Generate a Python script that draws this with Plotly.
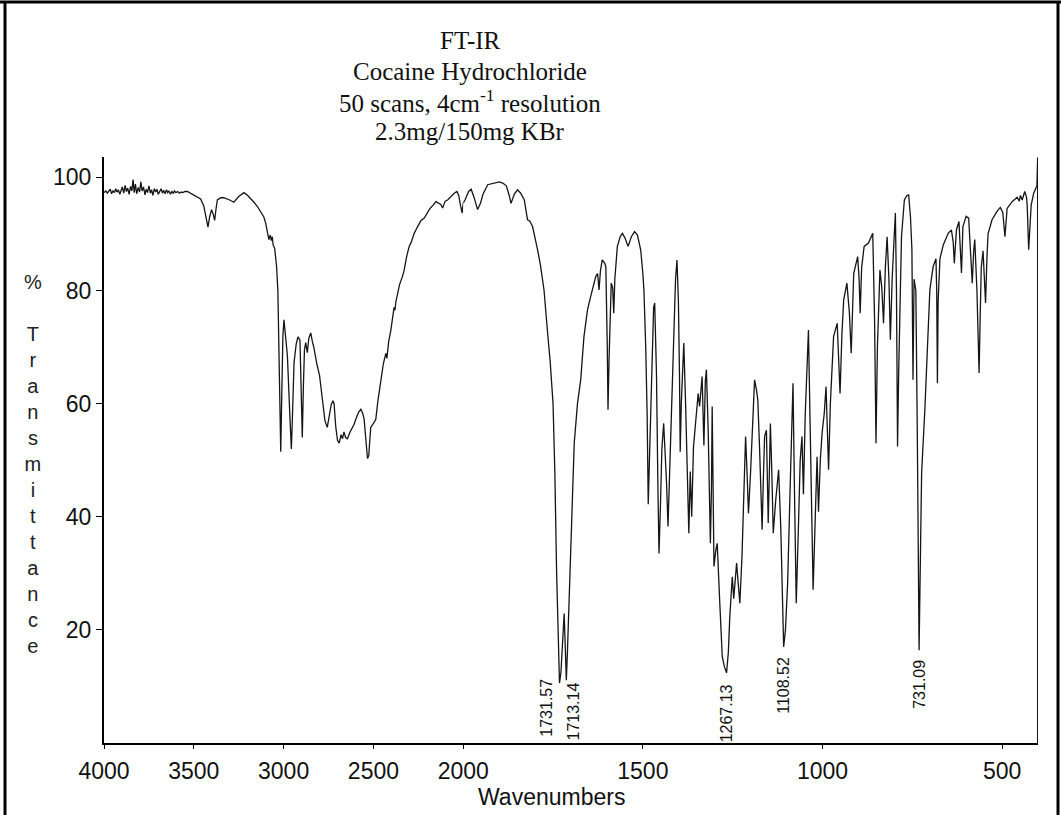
import plotly.graph_objects as go

# ---------------- data (wavenumber in cm-1, % transmittance) ----------------
wn_a = [4000, 3990, 3982, 3975, 3965, 3958, 3950, 3942, 3935, 3928, 3920, 3912, 3905, 3898, 3890,
        3882, 3875, 3868, 3860, 3852, 3845, 3838, 3832, 3825, 3818, 3810, 3802, 3795, 3788, 3780,
        3772, 3765, 3758, 3750, 3742, 3735, 3728, 3720, 3712, 3705, 3698, 3690, 3682, 3675, 3668,
        3660, 3652, 3645, 3638, 3630, 3622, 3615, 3608, 3600, 3590, 3580, 3570, 3560, 3550, 3536,
        3520, 3500]
t_a = [97.3, 97.6, 97.2, 97.5, 97.9, 97.1, 97.6, 97.3, 98.0, 97.4, 97.8, 97.0, 97.7, 98.3, 97.2,
       98.6, 97.5, 98.1, 97.0, 98.4, 97.6, 99.6, 97.3, 98.8, 97.1, 98.2, 97.4, 99.2, 97.6, 98.3,
       96.9, 97.9, 97.3, 98.5, 97.2, 97.8, 96.8, 98.0, 97.4, 97.9, 97.0, 97.6, 98.0, 97.2, 97.7,
       97.1, 97.8, 97.3, 97.6, 97.0, 97.5, 97.2, 97.6, 97.3, 97.5, 97.2, 97.4, 97.3, 97.5, 97.5,
       97.2, 96.8]

wn_b = [3480, 3462, 3445, 3430, 3421, 3412, 3401, 3392, 3384, 3376, 3369, 3350, 3334, 3300, 3277,
        3250, 3221, 3200, 3180, 3165, 3145, 3128, 3110, 3100, 3090, 3082, 3075, 3068, 3063, 3058,
        3050, 3039, 3032, 3026, 3020, 3016, 3010, 3004]
t_b = [96.5, 96.2, 95.0, 92.5, 91.2, 93.0, 94.3, 93.5, 92.4, 94.5, 96.0, 96.4, 96.4, 96.0, 95.6,
       96.6, 97.3, 96.8, 96.2, 95.6, 94.8, 94.0, 93.0, 91.9, 90.5, 89.0, 89.8, 88.8, 89.5, 88.0,
       87.5, 84.2, 80.0, 70.0, 58.0, 51.5, 62.0, 72.0]

wn_c = [2998, 2990, 2979, 2968, 2960, 2957, 2953, 2948, 2942, 2930, 2920, 2909, 2902, 2896, 2890,
        2884, 2877, 2868, 2860, 2849, 2840, 2831, 2815, 2800, 2785, 2770, 2757, 2745, 2735, 2725,
        2719, 2710, 2700, 2691, 2680, 2672, 2664, 2655, 2645, 2630, 2620, 2608, 2595, 2582, 2570,
        2560, 2552, 2545, 2538, 2533, 2526, 2520, 2515]
t_c = [74.8, 71.5, 68.5, 60.0, 53.0, 52.0, 55.5, 62.0, 67.2, 70.5, 71.8, 71.2, 62.0, 54.0, 63.0,
       69.5, 70.8, 69.0, 71.5, 72.5, 71.0, 69.8, 67.0, 65.0, 61.0, 57.0, 55.8, 58.0, 59.8, 60.5,
       60.0, 56.0, 53.5, 53.0, 54.5, 53.8, 55.0, 54.0, 53.8, 55.0, 55.5, 56.3, 57.5, 58.5, 59.0,
       58.3, 57.3, 54.5, 51.5, 50.3, 50.8, 53.5, 55.8]

wn_d = [2500, 2487, 2475, 2459, 2445, 2431, 2425, 2415, 2403, 2385, 2380, 2375, 2355, 2338, 2329,
        2315, 2301, 2290, 2273, 2254, 2235, 2217, 2200, 2185, 2170, 2152, 2140, 2125, 2115, 2100,
        2087, 2070, 2050, 2035, 2025, 2015, 2006, 2000]
t_d = [56.5, 57.2, 60.5, 64.5, 67.0, 68.9, 68.0, 71.0, 73.0, 77.0, 76.5, 78.0, 81.0, 82.5, 83.6,
       86.0, 87.8, 88.5, 90.1, 91.3, 92.4, 92.8, 93.8, 94.5, 95.0, 95.7, 95.5, 95.2, 94.6, 95.8,
       96.0, 96.6, 97.2, 97.5, 96.8, 95.0, 93.7, 95.5]

wn_e = [1995, 1985, 1978, 1970, 1960, 1952, 1945, 1932, 1920, 1909, 1900, 1890, 1880, 1872,
        1867, 1858, 1849, 1840, 1830, 1821, 1815, 1807, 1800, 1793, 1785, 1775, 1765, 1758, 1750,
        1745, 1740, 1735, 1732, 1728, 1726, 1722, 1719, 1716, 1713, 1710, 1705, 1700, 1696, 1691,
        1682, 1673, 1664, 1654, 1645, 1640, 1631, 1626, 1622, 1618, 1613, 1606, 1603, 1599, 1597,
        1594, 1590, 1588, 1584, 1581, 1578, 1571, 1563, 1557, 1550, 1541, 1532, 1523, 1515, 1506]
t_e = [96.0, 97.5, 97.9, 96.5, 94.3, 95.4, 97.0, 98.7, 98.9, 99.1, 99.2, 99.0, 98.5, 96.8,
       95.4, 97.0, 97.8, 97.2, 96.0, 92.5, 92.3, 91.3, 89.5, 87.2, 84.5, 80.0, 72.4, 67.5, 60.0,
       48.0, 30.0, 15.0, 10.6, 12.5, 14.7, 20.0, 22.9, 17.0, 11.1, 16.0, 25.3, 33.0, 41.8, 53.0,
       60.0, 64.2, 71.8, 76.6, 79.0, 80.1, 82.5, 83.0, 80.1, 83.5, 85.4, 84.8, 84.2, 70.0, 58.9,
       68.0, 79.0, 81.3, 80.5, 76.0, 82.0, 87.8, 89.5, 90.1, 89.3, 87.8, 89.5, 90.4, 89.8, 87.2]

wn_f = [1500, 1497, 1492, 1488, 1485, 1481, 1476, 1470, 1467, 1462, 1458, 1455, 1451, 1447, 1442,
        1438, 1434, 1430, 1425, 1418, 1412, 1409, 1405, 1401, 1398, 1396, 1393, 1389, 1386, 1381,
        1376, 1372, 1368, 1364, 1359, 1352, 1346, 1342, 1337, 1335, 1330, 1326, 1323, 1318, 1312,
        1309, 1307, 1304, 1302, 1297, 1293, 1286, 1279, 1273, 1267, 1262, 1258, 1251, 1247, 1239,
        1234, 1230, 1224, 1219, 1214, 1210, 1206, 1200, 1195, 1189, 1184, 1180, 1175, 1172, 1168,
        1164, 1161, 1156, 1151, 1147, 1145, 1141, 1137, 1130, 1122, 1116, 1111, 1108, 1103, 1097,
        1090, 1082, 1078, 1073, 1067, 1062, 1057, 1053, 1048, 1043, 1039, 1034, 1030, 1026, 1020,
        1015, 1011, 1006, 1001]
t_f = [83.0, 80.1, 70.0, 58.0, 42.2, 52.0, 65.0, 77.0, 77.8, 65.0, 45.0, 33.5, 42.0, 52.0, 56.5,
       52.0, 46.0, 38.3, 48.0, 60.7, 75.0, 82.0, 85.4, 78.0, 65.0, 51.5, 60.0, 68.0, 70.7, 60.0,
       45.0, 37.1, 48.0, 40.0, 52.4, 57.0, 61.8, 59.5, 64.0, 64.8, 52.6, 64.0, 66.0, 55.0, 35.3,
       45.0, 59.5, 45.0, 31.2, 34.0, 35.3, 25.0, 15.3, 13.5, 12.4, 16.0, 22.3, 29.4, 25.5, 31.8,
       28.0, 24.7, 33.0, 43.6, 54.2, 48.0, 40.6, 48.0, 55.9, 64.2, 62.5, 60.7, 52.0, 45.9, 37.7,
       48.0, 54.2, 55.3, 38.9, 50.0, 56.5, 48.0, 37.1, 43.0, 48.3, 38.0, 22.0, 17.0, 20.0, 28.2,
       45.0, 63.6, 45.0, 24.7, 38.0, 50.0, 54.2, 44.0, 58.0, 68.0, 73.0, 55.0, 38.0, 27.1, 40.0,
       50.6, 40.9, 50.0, 54.8]

wn_g = [995, 990, 986, 983, 978, 969, 959, 955, 951, 946, 941, 932, 925, 920, 916,
        913, 902, 898, 895, 891, 884, 872, 860, 855, 851, 847, 840, 835, 830, 825,
        820, 815, 811, 806, 800, 797, 794, 791, 788, 785, 780, 772, 765, 760, 755,
        751, 748, 745, 740, 736, 733, 731, 728, 724, 715, 705, 701, 692, 684, 682,
        680, 678, 673, 664, 650, 641, 636, 633, 630, 627, 620, 613, 609, 600, 593,
        588, 583, 579, 576, 570, 564, 561, 558, 553, 549, 546, 542, 539, 528, 514,
        505, 498, 492, 488, 486, 472, 465, 458, 452, 449, 444, 437, 432, 430, 426,
        422, 419, 412, 407, 403, 401, 400]
t_g = [58.3, 63.0, 55.0, 48.3, 60.0, 71.9, 74.2, 68.0, 61.8, 72.0, 78.3, 81.3, 76.0, 68.9, 78.0,
       83.0, 86.0, 82.0, 76.0, 84.0, 87.8, 88.4, 90.1, 75.0, 53.0, 70.0, 83.6, 80.7, 74.2, 84.0,
       89.5, 82.0, 71.3, 82.0, 90.0, 93.7, 80.0, 52.4, 65.0, 76.0, 89.5, 96.0, 96.8, 96.9, 93.0,
       87.2, 64.2, 82.0, 80.0, 55.0, 25.0, 16.4, 30.0, 47.7, 58.9, 72.4, 80.1, 84.2, 85.6, 80.0,
       63.6, 78.0, 85.6, 88.0, 90.1, 90.7, 88.5, 84.8, 88.0, 90.7, 92.2, 83.1, 91.3, 93.1, 92.8,
       88.0, 81.3, 87.0, 89.0, 80.0, 65.4, 75.0, 84.0, 87.0, 82.0, 77.8, 86.0, 90.0, 92.5, 94.0,
       94.7, 93.8, 89.5, 93.0, 94.5, 95.7, 96.2, 96.5, 95.8, 96.8, 96.0, 97.5, 96.5, 95.0, 87.2,
       92.0, 95.1, 97.2, 97.8, 98.5, 103.4, 103.4]

wavenumber = wn_a + wn_b + wn_c + wn_d + wn_e + wn_f + wn_g
transmittance = t_a + t_b + t_c + t_d + t_e + t_f + t_g

peak_wavenumbers = [1731.57, 1713.14, 1267.13, 1108.52, 731.09]
peak_labels = ["1731.57", "1713.14", "1267.13", "1108.52", "731.09"]
peak_values = [10.6, 11.1, 12.4, 17.0, 16.4]

x_ticks_high = [4000, 3500, 3000, 2500, 2000]
x_ticks_low = [1500, 1000, 500]
y_ticks = [20, 40, 60, 80, 100]

title_lines = ["FT-IR", "Cocaine Hydrochloride",
               "50 scans, 4cm<sup>-1</sup> resolution", "2.3mg/150mg KBr"]
y_title = "% Transmittance"
x_title = "Wavenumbers"

# ---------------- layout geometry ----------------
W, H = 1061, 815
L, R, T, B = 104, 23, 157, 72
PW, PH = W - L - R, H - T - B


def pxx(x):
    return (x - L) / PW


def pxy(y):
    return (H - B - y) / PH


split = 2000 / 5200.0  # region below 2000 cm-1 is drawn at double scale

hi = [(w, t) for w, t in zip(wavenumber, transmittance) if w >= 2000]
lo = [(w, t) for w, t in zip(wavenumber, transmittance) if w <= 2000]

line_style = dict(color="#151515", width=1.3)
fig = go.Figure()
fig.add_trace(go.Scatter(x=[p[0] for p in hi], y=[p[1] for p in hi], xaxis="x", yaxis="y",
                         mode="lines", line=line_style, hoverinfo="skip"))
fig.add_trace(go.Scatter(x=[p[0] for p in lo], y=[p[1] for p in lo], xaxis="x2", yaxis="y",
                         mode="lines", line=line_style, hoverinfo="skip"))

sans = "Liberation Sans, Arial, sans-serif"
tickfont = dict(family=sans, size=23, color="#111111")
xcommon = dict(showline=True, linecolor="black", linewidth=2, ticks="outside", ticklen=4,
               tickwidth=1, tickcolor="black", showgrid=False, zeroline=False,
               tickfont=tickfont, anchor="y", ticklabelstandoff=2, fixedrange=True,
               automargin=False)

fig.update_layout(
    template="none",
    width=W, height=H, autosize=False,
    margin=dict(l=L, r=R, t=T, b=B, pad=0, autoexpand=False),
    paper_bgcolor="white", plot_bgcolor="white", showlegend=False,
    xaxis=dict(domain=[0, split], range=[4000, 2000], tickvals=x_ticks_high,
               ticktext=[str(v) for v in x_ticks_high], **xcommon),
    xaxis2=dict(domain=[split, 1], range=[2000, 400], tickvals=x_ticks_low,
                ticktext=[str(v) for v in x_ticks_low], **xcommon),
    yaxis=dict(range=[0, 103.6], tickvals=y_ticks, ticktext=[str(v) for v in y_ticks],
               showline=True, linecolor="black", linewidth=2, ticks="outside", ticklen=6,
               tickwidth=1, tickcolor="black", showgrid=False, zeroline=False,
               tickfont=tickfont, anchor="x", fixedrange=True, automargin=False),
)

serif = dict(family="Liberation Serif, Times New Roman, serif", size=25, color="#111111")
ann = []
for line, ypix in zip(title_lines, [40, 71, 101, 131]):
    ann.append(dict(text=line, xref="paper", yref="paper",
                    x=pxx(470), y=pxy(ypix), xanchor="center", yanchor="middle",
                    showarrow=False, font=serif))
ann.append(dict(text=x_title, xref="paper", yref="paper", x=pxx(551), y=pxy(797),
                xanchor="center", yanchor="middle", showarrow=False,
                font=dict(family=sans, size=23, color="#111111")))
stack = y_title[0] + "<br><br>" + "<br>".join(list(y_title[2:]))
ann.append(dict(text=stack, xref="paper", yref="paper", x=pxx(33), y=pxy(463.5),
                xanchor="center", yanchor="middle", showarrow=False, align="center",
                font=dict(family=sans, size=20, color="#222222")))

label_xshift = [-14, 7, 0, 0, 1]
label_yshift = [6, 0, -10, -8, -8]
for w, lab, v, dx, dy in zip(peak_wavenumbers, peak_labels, peak_values, label_xshift, label_yshift):
    ann.append(dict(text=lab, xref="x2", yref="y", x=w, y=v, textangle=-90,
                    xanchor="center", yanchor="top", xshift=dx, yshift=dy, showarrow=False,
                    font=dict(family=sans, size=16, color="#111111")))
fig.update_layout(annotations=ann)

shapes = [
    dict(type="line", xref="x2", yref="y", x0=400, x1=400, y0=0, y1=103.4,
         line=dict(color="#151515", width=2)),
    dict(type="line", xref="paper", yref="paper", x0=pxx(0), x1=pxx(W), y0=pxy(2), y1=pxy(2),
         line=dict(color="black", width=3)),
    dict(type="line", xref="paper", yref="paper", x0=pxx(5), x1=pxx(5), y0=pxy(2), y1=pxy(820),
         line=dict(color="black", width=3)),
    dict(type="line", xref="paper", yref="paper", x0=pxx(1058), x1=pxx(1058),
         y0=pxy(2), y1=pxy(820), line=dict(color="black", width=3)),
]
fig.update_layout(shapes=shapes)

post = ("document.documentElement.style.margin='0';"
        "document.documentElement.style.overflow='hidden';"
        "document.body.style.margin='0';document.body.style.overflow='hidden';")

fig.write_html("out.html",
               config={"responsive": False, "displayModeBar": False},
               default_width="1061px", default_height="815px",
               post_script=post)
